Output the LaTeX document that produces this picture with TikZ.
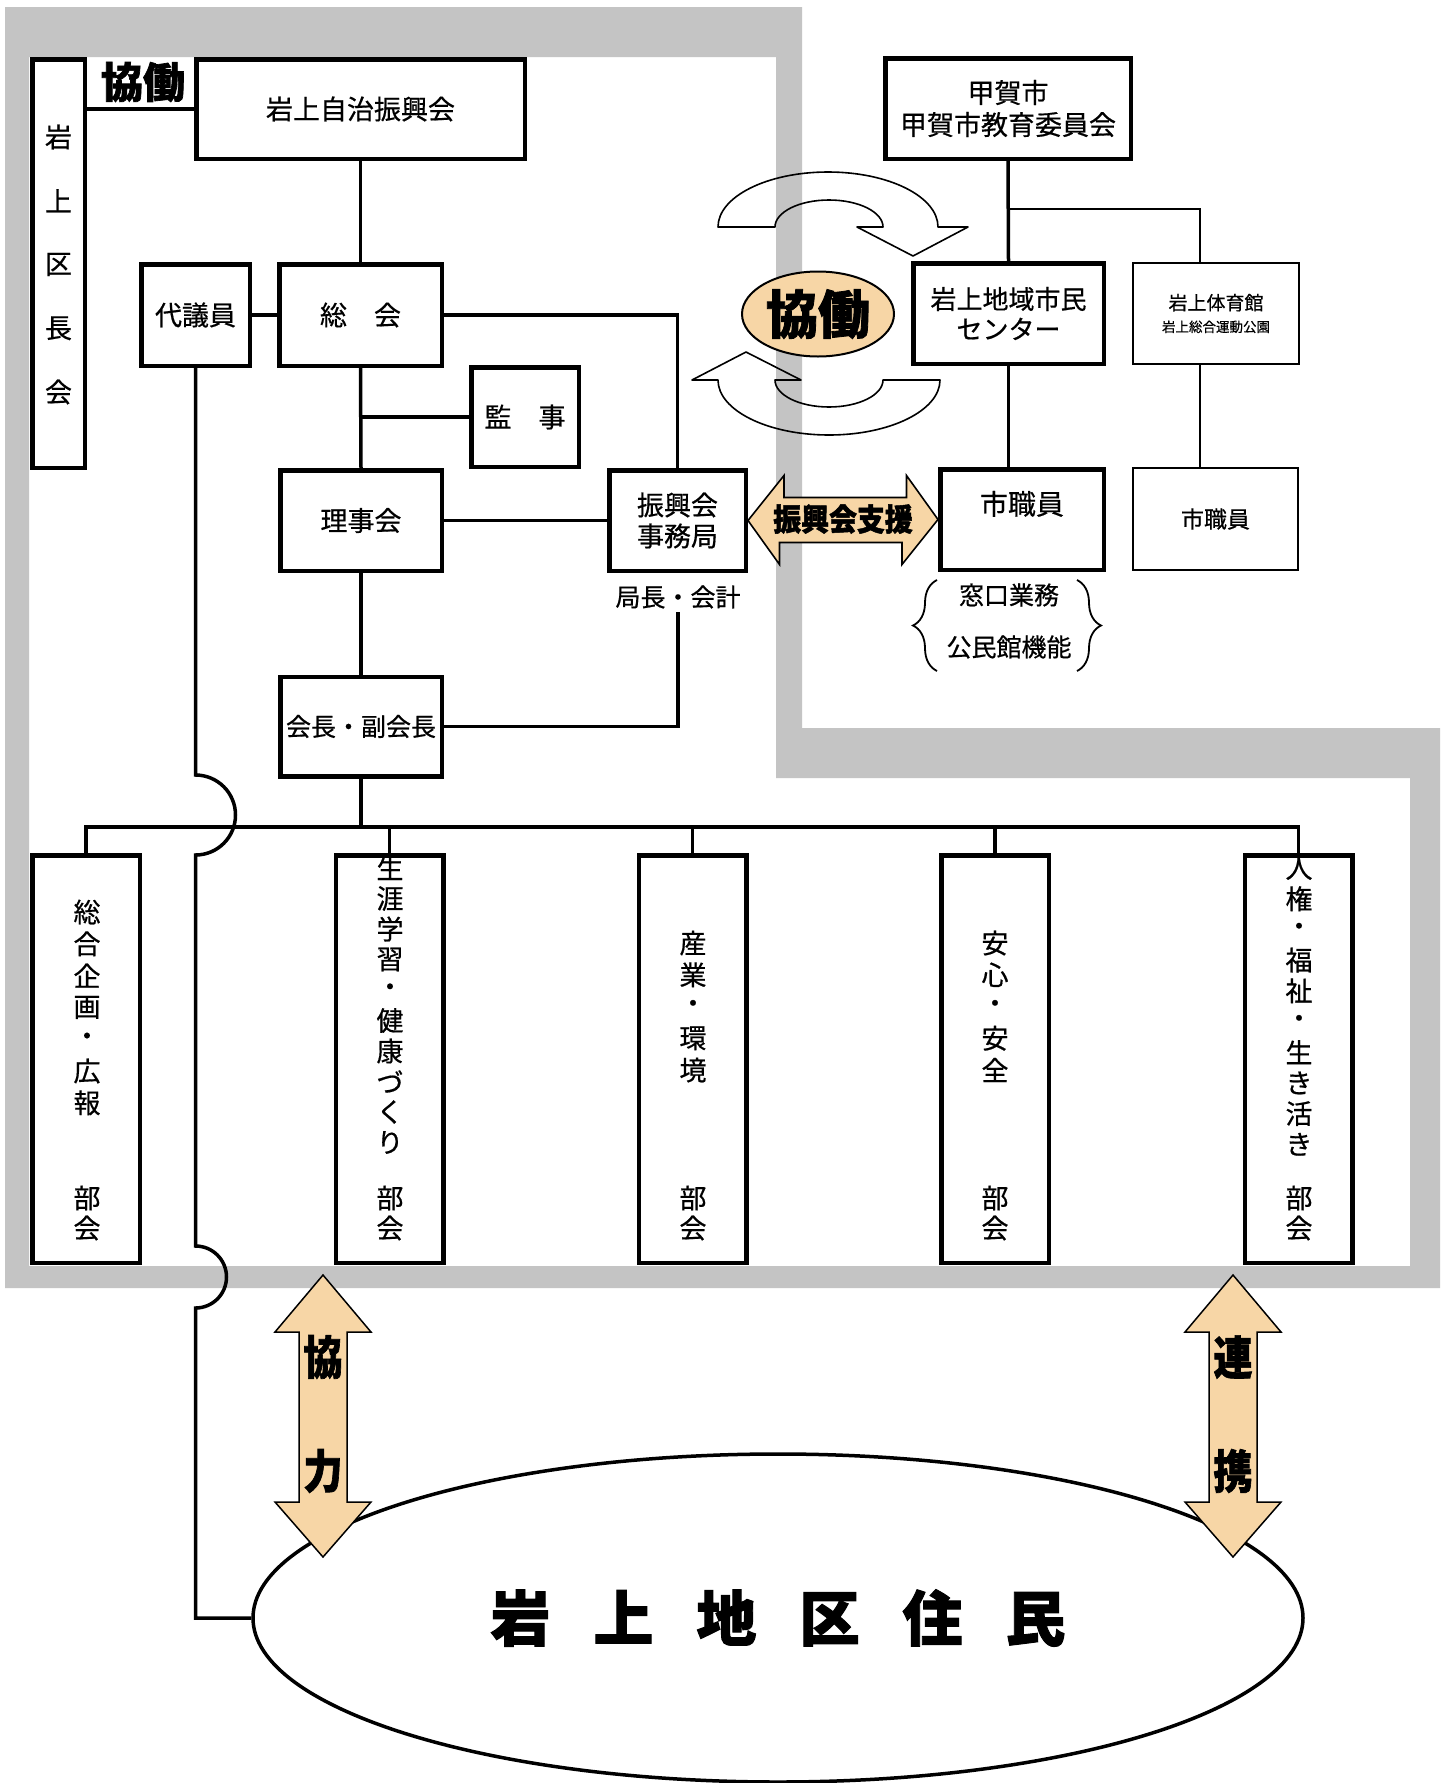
\documentclass[tikz,border=0pt]{standalone}
\usepackage{fontspec}
\usepackage{graphicx}
\setmainfont{Noto Sans CJK JP}[UprightFeatures={FakeBold=0.6}, BoldFeatures={FakeBold=1.6}]
\usepackage{tikz}
\usetikzlibrary{shapes.geometric, decorations.pathreplacing, positioning}
\definecolor{bandgray}{RGB}{196,196,196}
\definecolor{kyodotan}{RGB}{247,214,166}
\newcommand{\fsz}[2]{\fontsize{#1}{#2}\selectfont}
% vertical text: name, x, first y, pitch, characters
\newcommand{\tate}[5]{%
  \foreach \ch [count=\k from 0] in {#5}
    {\node[font=\fsz{27}{27}, inner sep=0pt] (#1-\k) at (#2, {#3+#4*\k}) {\ch};}}
% two-headed vertical arrow with two characters
\newcommand{\tatearrow}[4]{%
  \draw[line width=1.5pt, fill=kyodotan] (#2,1275) -- ++(48,57) -- ++(-24,0) -- ++(0,170) -- ++(24,0)
     -- (#2,1557) -- ++(-48,-55) -- ++(24,0) -- ++(0,-170) -- ++(-24,0) -- cycle;
  \node[heavy] (#1-a) at (#2,1357) {\fsz{46}{46}\scalebox{0.85}[1]{#3}};
  \node[heavy] (#1-b) at (#2,1471) {\fsz{46}{46}\scalebox{0.85}[1]{#4}};}
\tikzset{
  box/.style={draw, line width=4.5pt, fill=white, inner sep=0pt, font=\fsz{27}{27}, align=center},
  thinbox/.style={box, line width=2pt},
  bukai/.style={box, minimum width=107.5pt, minimum height=407.5pt},
  conn/.style={line width=3.5pt},
  thinconn/.style={line width=1.8pt},
  heavy/.style={inner sep=0pt, font=\bfseries},
  turnarrow/.style={line width=1.6pt, line join=round},
  curlyb/.style={decorate, decoration={brace, amplitude=24pt}, line width=1.8pt},
}

\begin{document}
\begin{tikzpicture}[x=1pt, y=-1pt]
        \useasboundingbox (0,0) rectangle (1447,1783);
        \fill[white] (0,0) rectangle (1447,1783);

        % Gray frame of the Iwakami side
        \fill[bandgray, even odd rule] (5,7) -- (802,7) -- (802,728) -- (1440,728) -- (1440,1288) -- (5,1288) -- cycle
             (29,57) -- (776,57) -- (776,778) -- (1410,778) -- (1410,1266) -- (29,1266) -- cycle;

        % Left organisation
        \node[box, minimum width=52.5pt, minimum height=408.5pt] (kucho) at (58.5,263.5) {};
        \tate{kucho}{58.5}{137}{63.75}{岩,上,区,長,会}
        \node[box, minimum width=328.5pt, minimum height=99.5pt] (shinkokai) at (360.5,109) {岩上自治振興会};
        \node[heavy] (kyodo1) at (143,82) {\fsz{42}{42}協働};
        \node[box, minimum width=108.5pt, minimum height=101.5pt] (daigiin) at (195.5,315) {代議員};
        \node[box, minimum width=162.5pt, minimum height=101.5pt] (sokai) at (360.5,315) {総　会};
        \node[box, minimum width=107.5pt, minimum height=99.5pt] (kanji) at (525,417) {監　事};
        \node[box, minimum width=161.5pt, minimum height=100.5pt] (rijikai) at (361,520.5) {理事会};
        \node[box, minimum width=136.5pt, minimum height=100.5pt, font=\fsz{27}{31}] (jimukyoku) at (677.5,520.5) {振興会\\事務局};
        \node[font=\fsz{25}{25}] (kyokucho) at (678,597) {局長・会計};
        \node[box, minimum width=161.5pt, minimum height=99.5pt, font=\fsz{25}{25}] (kaicho) at (361,726.5) {会長・副会長};

        % Koka city side
        \node[box, minimum width=245.5pt, minimum height=100.5pt, font=\fsz{27}{32}] (koka) at (1008,108.5) {甲賀市\\甲賀市教育委員会};
        \node[box, minimum width=190.5pt, minimum height=100.5pt, font=\fsz{26}{30}] (shimin) at (1008.5,313.5) {岩上地域市民\\センター};
        \node[thinbox, minimum width=166pt, minimum height=101pt, font=\fsz{19}{22}] (taiikukan) at (1216,313.5) {岩上体育館\\{\fsz{13.5}{16}岩上総合運動公園}};
        \node[box, minimum width=163.5pt, minimum height=100.5pt, font=\fsz{28}{28}, text height=24pt, text depth=34pt] (shokuin1) at (1022,519.5) {市職員};
        \node[thinbox, minimum width=165pt, minimum height=102pt, font=\fsz{23}{23}] (shokuin2) at (1215.5,519) {市職員};
        \node[font=\fsz{25}{25}] (madoguchi) at (1009,595) {窓口業務};
        \node[font=\fsz{25}{25}] (kominkan) at (1009,647) {公民館機能};
        \draw[curlyb] (937,671) -- (937,580);
        \draw[curlyb] (1077,580) -- (1077,671);

        % Committees
        \node[bukai] (bu1) at (86,1059) {};
        \node[bukai] (bu2) at (389.5,1059) {};
        \node[bukai] (bu3) at (692.5,1059) {};
        \node[bukai] (bu4) at (995,1059) {};
        \node[bukai] (bu5) at (1298.5,1059) {};
        \tate{bu1}{87}{912}{31.8}{総,合,企,画,・,広,報}
        \tate{bu2}{390}{868}{30.5}{生,涯,学,習,・,健,康,づ,く,り}
        \tate{bu3}{693}{943}{31.75}{産,業,・,環,境}
        \tate{bu4}{995}{943}{31.75}{安,心,・,安,全}
        \tate{bu5}{1299}{868}{30.7}{人,権,・,福,祉,・,生,き,活,き}
        \foreach \b/\x in {1/87,2/390,3/693,4/995,5/1299}
            {\tate{bu\b b}{\x}{1198}{30}{部,会}}

        % Residents
        \node[ellipse, draw, line width=3.5pt, fill=white, minimum width=1050pt, minimum height=328pt, inner sep=0pt, font=\bfseries] (jumin) at (778,1618)
            {\fsz{60}{60}岩\hspace{43pt}上\hspace{43pt}地\hspace{43pt}区\hspace{43pt}住\hspace{43pt}民};

        % Connectors
        \draw[conn] (kucho.east |- shinkokai.west) -- (shinkokai.west);
        \draw[conn] (shinkokai.south) -- (sokai.north);
        \draw[conn] (daigiin.east) -- (sokai.west);
        \draw[conn] (sokai.east) -| (jimukyoku.north);
        \draw[conn] (sokai.south) -- (rijikai.north);
        \draw[conn] (sokai.south |- kanji.west) -- (kanji.west);
        \draw[conn] (rijikai.east) -- (jimukyoku.west);
        \draw[conn] (rijikai.south) -- (kaicho.north);
        \draw[conn] (kyokucho.south) |- (kaicho.east);
        \coordinate (bus) at (700,827);
        \draw[conn] (kaicho.south) -- (kaicho.south |- bus);
        \draw[conn] (bu1.north) -- (bu1.north |- bus) -- (bu5.north |- bus) -- (bu5.north);
        \foreach \b in {2,3,4}
            {\draw[conn] (bu\b.north) -- (bu\b.north |- bus);}
        \draw[conn] (daigiin.south) -- (daigiin.south |- 0,775) arc[start angle=-90, end angle=90, radius=40]
             -- (daigiin.south |- 0,1246) arc[start angle=-90, end angle=90, radius=31]
             -- (daigiin.south |- jumin.west) -- (jumin.west);

        \draw[conn] (koka.south) -- (shimin.north);
        \draw[conn] (shimin.south) -- (shimin.south |- shokuin1.north);
        \coordinate (splitr) at (1200,209);
        \draw[thinconn] (koka.south |- splitr) -- (splitr) -- (splitr |- taiikukan.north);
        \draw[thinconn] (splitr |- taiikukan.south) -- (splitr |- shokuin2.north);

        % Turning arrows and the kyodo mark
        \draw[turnarrow] (718,227) arc[start angle=180, end angle=360, x radius=110, y radius=55]
             -- (968,227) -- (913,256) -- (857,227) -- (883,227)
             arc[start angle=0, end angle=-180, x radius=54, y radius=27] -- cycle;
        \draw[turnarrow] (940,380) arc[start angle=0, end angle=180, x radius=111, y radius=55]
             -- (692,380) -- (746,352) -- (801,380) -- (775,380)
             arc[start angle=180, end angle=0, x radius=54, y radius=27] -- cycle;
        \node[ellipse, draw, line width=2pt, fill=kyodotan, minimum width=152pt, minimum height=85pt, heavy] (kyodo2) at (818,314) {\fsz{52}{52}協働};

        % Support arrow
        \draw[line width=1.6pt, fill=kyodotan] (jimukyoku.east) -- ++(36,-45) -- ++(0,22) -- ++(122.5,0) -- ++(0,-22)
             -- (shokuin1.west) -- ++(-36,45) -- ++(0,-22) -- ++(-122.5,0) -- ++(0,22) -- cycle;
        \node[heavy] (shien) at (843,519) {\fsz{31}{31}\scalebox{0.9}[1]{振興会支援}};

        % Cooperation arrows
        \tatearrow{kyoryoku}{323}{協}{力}
        \tatearrow{renkei}{1233}{連}{携}

    \end{tikzpicture}
\end{document}
